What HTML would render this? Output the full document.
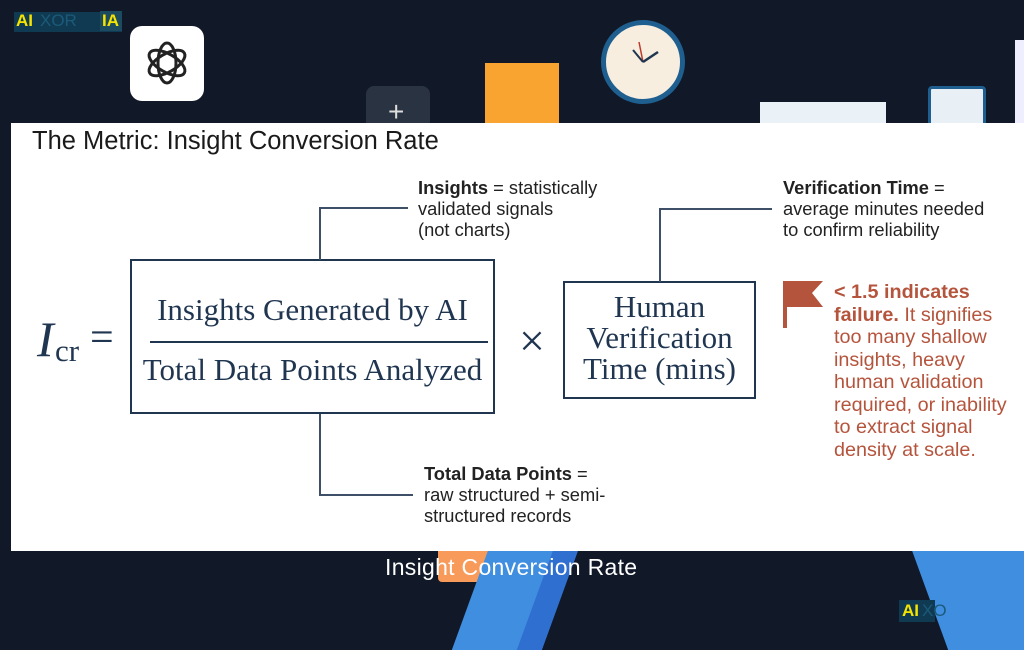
<!DOCTYPE html>
<html><head><meta charset="utf-8"><style>
body{margin:0;width:1024px;height:640px;background:#111827;position:relative;overflow:hidden;font-family:"Liberation Sans",sans-serif}
.a{position:absolute}
.sans{font-family:"Liberation Sans",sans-serif;color:#222;font-size:18.3px;line-height:21px;white-space:nowrap}
.serif{font-family:"Liberation Serif",serif;color:#1f3550}
.ln{position:absolute;background:#3e5068}
</style></head><body>
<!-- background decorations -->
<div class="a" style="left:14px;top:12px;width:108px;height:20px;background:#0f3a52"></div>
<div class="a" style="left:16px;top:11px;font-weight:bold;font-size:17px;color:#f5e400">AI</div>
<div class="a" style="left:40px;top:11px;font-size:17px;color:#1b5a7a">XOR</div>
<div class="a" style="left:100px;top:11px;width:22px;height:20px;background:#1c4a5e"></div>
<div class="a" style="left:102px;top:11px;font-weight:bold;font-size:17px;color:#f5e400">IA</div>
<div class="a" style="left:130px;top:26px;width:74px;height:75px;background:#fff;border-radius:12px"></div>
<svg class="a" style="left:142px;top:38px" width="50" height="50" viewBox="0 0 50 50" fill="none" stroke="#222" stroke-width="3"><ellipse cx="25" cy="25" rx="9" ry="20"/><ellipse cx="25" cy="25" rx="9" ry="20" transform="rotate(60 25 25)"/><ellipse cx="25" cy="25" rx="9" ry="20" transform="rotate(120 25 25)"/></svg>
<div class="a" style="left:366px;top:86px;width:64px;height:50px;background:#2a3342;border-radius:8px"></div>
<div class="a" style="left:388px;top:96px;color:#ddd;font-size:28px">+</div>
<div class="a" style="left:485px;top:63px;width:74px;height:70px;background:#f9a431"></div>
<div class="a" style="left:601px;top:20px;width:74px;height:74px;border-radius:50%;background:#f7eee0;border:5px solid #1f5f8f"></div>
<svg class="a" style="left:606px;top:25px" width="74" height="74"><line x1="37" y1="37" x2="33" y2="17" stroke="#c0392b" stroke-width="1.5"/><line x1="37" y1="37" x2="52" y2="27" stroke="#1f3550" stroke-width="2.5"/><line x1="37" y1="37" x2="27" y2="25" stroke="#1f3550" stroke-width="2"/></svg>
<div class="a" style="left:760px;top:102px;width:126px;height:30px;background:#eaf2f8"></div>
<div class="a" style="left:928px;top:86px;width:52px;height:44px;background:#e8eff5;border:3px solid #1f5f8f;border-radius:4px"></div>
<div class="a" style="left:1015px;top:40px;width:9px;height:90px;background:#eef"></div>
<!-- bottom decorations -->
<div class="a" style="left:455px;top:540px;width:70px;height:30px;background:#fff;border-radius:14px"></div>
<div class="a" style="left:438px;top:540px;width:110px;height:42px;background:#f79a5a;border-radius:4px"></div>
<div class="a" style="left:470px;top:550px;width:90px;height:100px;background:#3f8ee0;transform:skewX(-20deg)"></div>
<div class="a" style="left:535px;top:550px;width:25px;height:100px;background:#2f6fd0;transform:skewX(-20deg)"></div>
<div class="a" style="left:930px;top:550px;width:134px;height:100px;background:#3f8ee0;transform:skewX(20deg)"></div>
<div class="a" style="left:385px;top:554px;color:#fff;font-size:23px;letter-spacing:0.3px">Insight Conversion Rate</div>
<div class="a" style="left:899px;top:600px;width:36px;height:22px;background:#0f3a52"></div>
<div class="a" style="left:902px;top:601px;font-weight:bold;font-size:17px;color:#f5e400">AI</div>
<div class="a" style="left:922px;top:601px;font-size:17px;color:#1b5a7a">XO</div>
<!-- white panel -->
<div class="a" style="left:11px;top:123px;width:1013px;height:428px;background:#fff"></div>
<div class="a" style="left:32px;top:127px;font-size:25.5px;color:#1a1a1a;white-space:nowrap">The Metric: Insight Conversion Rate</div>
<!-- formula -->
<div class="a serif" style="left:37px;top:310px;font-size:50px;font-style:italic;color:#1f3550">I</div>
<div class="a serif" style="left:55px;top:333px;font-size:31px">cr</div>
<div class="a serif" style="left:90px;top:314px;font-size:42px">=</div>
<div class="a" style="left:130px;top:259px;width:361px;height:151px;border:2.5px solid #1f3550"></div>
<div class="a serif" style="left:130px;top:292px;width:365px;text-align:center;font-size:31px;white-space:nowrap">Insights Generated by AI</div>
<div class="a" style="left:150px;top:341px;width:338px;height:2px;background:#1f3550"></div>
<div class="a serif" style="left:130px;top:352px;width:365px;text-align:center;font-size:31px;white-space:nowrap">Total Data Points Analyzed</div>
<div class="a serif" style="left:519px;top:314px;font-size:46px;color:#1f3550">×</div>
<div class="a" style="left:563px;top:281px;width:189px;height:114px;border:2.5px solid #1f3550"></div>
<div class="a serif" style="left:563px;top:291px;width:193px;text-align:center;font-size:31px;line-height:31px">Human<br>Verification<br>Time (mins)</div>
<!-- connectors -->
<div class="ln" style="left:319px;top:207px;width:1.5px;height:53px"></div>
<div class="ln" style="left:319px;top:207px;width:89px;height:1.5px"></div>
<div class="ln" style="left:659px;top:208px;width:1.5px;height:74px"></div>
<div class="ln" style="left:659px;top:208px;width:113px;height:1.5px"></div>
<div class="ln" style="left:319px;top:414px;width:1.5px;height:80px"></div>
<div class="ln" style="left:319px;top:494px;width:94px;height:1.5px"></div>
<!-- labels -->
<div class="a sans" style="left:418px;top:177px"><b>Insights</b> = statistically<br>validated signals<br>(not charts)</div>
<div class="a sans" style="left:783px;top:177px"><b>Verification Time</b> =<br>average minutes needed<br>to confirm reliability</div>
<div class="a sans" style="left:424px;top:463px"><b>Total Data Points</b> =<br>raw structured + semi-<br>structured records</div>
<!-- flag -->
<div class="a" style="left:783px;top:281px;width:4px;height:47px;background:#b5543c"></div>
<svg class="a" style="left:786px;top:281px" width="37" height="27"><polygon points="0,0 37,0 26,12 37,26 0,26" fill="#b5543c"/></svg>
<div class="a sans" style="left:834px;top:281px;color:#b5543c;font-size:19.8px;line-height:22.5px"><b>&lt; 1.5 indicates<br>failure.</b> It signifies<br>too many shallow<br>insights, heavy<br>human validation<br>required, or inability<br>to extract signal<br>density at scale.</div>
</body></html>
